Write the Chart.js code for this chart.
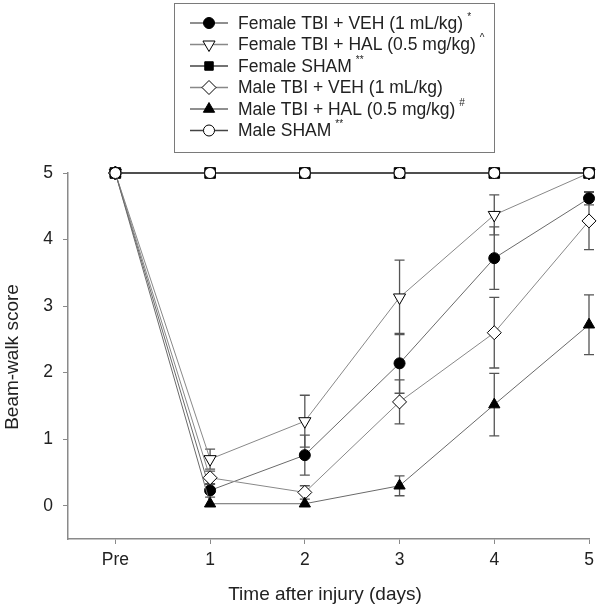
<!DOCTYPE html>
<html>
<head>
<meta charset="utf-8">
<script src="https://cdn.jsdelivr.net/npm/chart.js@4"></script>
<style>
  html, body { margin: 0; padding: 0; background: #fff; }
  #wrap { width: 600px; height: 610px; position: relative; }
</style>
</head>
<body>
<div id="wrap"><canvas id="beamChart" width="600" height="610"></canvas></div>
<script>
// x positions: 0 = Pre, then days 1..5
const days = [0, 1, 2, 3, 4, 5];
const dayLabels = ["Pre", "1", "2", "3", "4", "5"];
const yTicks = [0, 1, 2, 3, 4, 5];

const femaleVeh = [5, 0.23, 0.76, 2.14, 3.72, 4.62];
const femaleVehErr = [0, 0.1, 0.3, 0.45, 0.47, 0.1];
const femaleHal = [5, 0.7, 1.27, 3.13, 4.37, 5.0];
const femaleHalErr = [0, 0.15, 0.39, 0.56, 0.3, 0];
const femaleSham = [5, 5, 5, 5, 5, 5];
const maleVeh = [5, 0.42, 0.2, 1.56, 2.6, 4.28];
const maleVehErr = [0, 0.1, 0.1, 0.33, 0.53, 0.43];
const maleHal = [5, 0.03, 0.03, 0.3, 1.52, 2.72];
const maleHalErr = [0, 0, 0, 0.15, 0.47, 0.45];
const maleSham = [5, 5, 5, 5, 5, 5];

const seriesNames = [
  "Female TBI + VEH (1 mL/kg)",
  "Female TBI + HAL (0.5 mg/kg)",
  "Female SHAM",
  "Male TBI + VEH (1 mL/kg)",
  "Male TBI + HAL (0.5 mg/kg)",
  "Male SHAM"
];
const seriesSup = ["*", "^", "**", "", "#", "**"];

const FONT = "'Liberation Sans', Arial, sans-serif";
const TEXT = "#222";
const AXIS = "#8a8a8a";

function pts(vals) {
  return vals.map((v, i) => ({ x: days[i], y: v }));
}

function makeSet(i, vals, errs, style) {
  return Object.assign({
    label: seriesNames[i],
    data: pts(vals),
    errors: errs,
    borderWidth: 1,
    pointBorderWidth: 1,
    pointBorderColor: "#000",
    clip: false,
    order: 5 - i
  }, style);
}

const datasets = [
  makeSet(0, femaleVeh, femaleVehErr, { borderColor: "#6a6a6a", pointStyle: "circle", pointRadius: 5.5, pointBackgroundColor: "#000" }),
  makeSet(1, femaleHal, femaleHalErr, { borderColor: "#888", pointStyle: "triangle", pointRotation: 180, pointRadius: 7, pointBackgroundColor: "#fff" }),
  makeSet(2, femaleSham, null, { borderColor: "#444", borderWidth: 1.3, pointStyle: "rect", pointRadius: 7.5, pointBackgroundColor: "#000" }),
  makeSet(3, maleVeh, maleVehErr, { borderColor: "#888", pointStyle: "rectRot", pointRadius: 7, pointBackgroundColor: "#fff" }),
  makeSet(4, maleHal, maleHalErr, { borderColor: "#6a6a6a", pointStyle: "triangle", pointRadius: 6.5, pointBackgroundColor: "#000" }),
  makeSet(5, maleSham, null, { borderColor: "#444", borderWidth: 1.3, pointStyle: "circle", pointRadius: 5.5, pointBackgroundColor: "#fff" })
];

// error bars, drawn under the markers
const errorBars = {
  id: "errorBars",
  beforeDatasetsDraw(chart) {
    const ctx = chart.ctx;
    const xs = chart.scales.x, ys = chart.scales.y;
    ctx.save();
    ctx.strokeStyle = "#555";
    ctx.lineWidth = 1.3;
    chart.data.datasets.forEach(ds => {
      if (!ds.errors) return;
      ds.data.forEach((p, i) => {
        const e = ds.errors[i];
        if (!e) return;
        const x = xs.getPixelForValue(p.x);
        const yTop = ys.getPixelForValue(p.y + e);
        const yBot = ys.getPixelForValue(p.y - e);
        ctx.beginPath();
        ctx.moveTo(x, yTop); ctx.lineTo(x, yBot);
        ctx.moveTo(x - 5, yTop); ctx.lineTo(x + 5, yTop);
        ctx.moveTo(x - 5, yBot); ctx.lineTo(x + 5, yBot);
        ctx.stroke();
      });
    });
    ctx.restore();
  }
};

function drawMarker(ctx, ds, x, y) {
  if (Chart.helpers && Chart.helpers.drawPoint) {
    ctx.save();
    ctx.fillStyle = ds.pointBackgroundColor;
    ctx.strokeStyle = ds.pointBorderColor;
    ctx.lineWidth = ds.pointBorderWidth;
    Chart.helpers.drawPoint(ctx, {
      pointStyle: ds.pointStyle,
      rotation: ds.pointRotation || 0,
      radius: ds.pointStyle === "rect" ? 6 : ds.pointRadius,
      borderWidth: ds.pointBorderWidth
    }, x, y);
    ctx.restore();
  }
}

// boxed legend and axis titles
const legendAndTitles = {
  id: "legendAndTitles",
  afterDraw(chart) {
    const ctx = chart.ctx;
    ctx.save();
    // legend box
    ctx.fillStyle = "#fff";
    ctx.fillRect(174.5, 3.5, 320, 149);
    ctx.strokeStyle = "#7a7a7a";
    ctx.lineWidth = 1;
    ctx.strokeRect(174.5, 3.5, 320, 149);

    chart.data.datasets.forEach((ds, i) => {
      const y = 23 + i * 21.5;
      ctx.strokeStyle = ds.borderColor;
      ctx.lineWidth = 1.3;
      ctx.beginPath();
      ctx.moveTo(190, y); ctx.lineTo(228, y);
      ctx.stroke();
      drawMarker(ctx, ds, 209, y);

      ctx.fillStyle = TEXT;
      ctx.font = "17.5px " + FONT;
      ctx.textBaseline = "middle";
      ctx.textAlign = "left";
      ctx.fillText(seriesNames[i], 238, y + 1);
      if (seriesSup[i]) {
        const w = ctx.measureText(seriesNames[i]).width;
        ctx.font = "10px " + FONT;
        ctx.fillText(seriesSup[i], 238 + w + 4, y - 6);
      }
    });

    // axis titles
    ctx.fillStyle = TEXT;
    ctx.font = "19px " + FONT;
    ctx.textAlign = "center";
    ctx.textBaseline = "middle";
    ctx.fillText("Time after injury (days)", 325, 595);
    ctx.translate(13, 357);
    ctx.rotate(-Math.PI / 2);
    ctx.fillText("Beam-walk score", 0, 0);
    ctx.restore();
  }
};

new Chart(document.getElementById("beamChart").getContext("2d"), {
  type: "line",
  data: { datasets },
  options: {
    responsive: false,
    animation: false,
    layout: { padding: { top: 173, right: 11, left: 0, bottom: 0 } },
    plugins: { legend: { display: false }, tooltip: { enabled: false } },
    elements: { line: { tension: 0 } },
    scales: {
      x: {
        type: "linear",
        min: -0.5,
        max: 5,
        afterBuildTicks: (scale) => { scale.ticks = days.map(v => ({ value: v })); },
        afterFit: (scale) => { scale.height = 71; },
        border: { color: AXIS, width: 1.5 },
        grid: { drawOnChartArea: false, drawTicks: true, tickLength: 5, color: AXIS },
        ticks: {
          padding: 6,
          color: TEXT,
          font: { size: 17.5, family: FONT },
          callback: (v) => dayLabels[days.indexOf(v)]
        }
      },
      y: {
        min: -0.5,
        max: 5,
        afterBuildTicks: (scale) => { scale.ticks = yTicks.map(v => ({ value: v })); },
        afterFit: (scale) => { scale.width = 68; },
        border: { color: AXIS, width: 1.5 },
        grid: { drawOnChartArea: false, drawTicks: true, tickLength: 5, color: AXIS },
        ticks: {
          padding: 10,
          color: TEXT,
          font: { size: 17.5, family: FONT }
        }
      }
    }
  },
  plugins: [errorBars, legendAndTitles]
});
</script>
</body>
</html>
